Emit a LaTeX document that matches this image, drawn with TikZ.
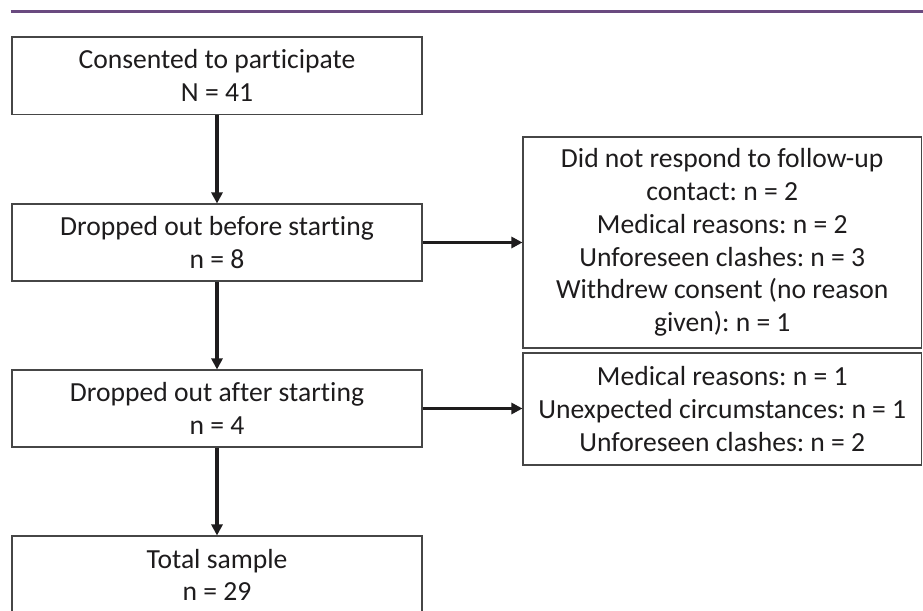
\documentclass[tikz,border=0pt]{standalone}
\usepackage{fontspec}
\setmainfont[Ligatures={NoCommon}]{Carlito}
\usetikzlibrary{arrows.meta}
\frenchspacing
\definecolor{rulepurple}{RGB}{106,74,128}
\definecolor{boxline}{RGB}{70,70,70}
\definecolor{inkc}{RGB}{30,28,29}
\tikzset{
  flowbox/.style={draw=boxline, line width=1.1pt, inner sep=0pt, align=center,
    text=inkc, font=\fontsize{27.6pt}{32.7pt}\selectfont},
  flowarrow/.style={draw=inkc, line width=3.2pt,
    -{Triangle[length=11pt,width=11pt]}}
}
\begin{document}
\begin{tikzpicture}[x=1pt,y=-1pt]
\clip (0,0) rectangle (923,610);
\fill[white] (0,0) rectangle (923,610);
\draw[rulepurple, line width=2.8pt] (10.5,11.3) -- (923,11.3);

\node[flowbox, minimum width=410pt, minimum height=77.5pt] (b1) at (217,75.75)
  {Consented to participate\\N = 41};
\node[flowbox, minimum width=410pt, minimum height=77pt] (b2) at (217,242.5)
  {Dropped out before starting\\n = 8};
\node[flowbox, minimum width=410pt, minimum height=77pt] (b3) at (217,408.5)
  {Dropped out after starting\\n = 4};
\node[flowbox, minimum width=410pt, minimum height=78pt] (b4) at (217,575)
  {Total sample\\n = 29};
\node[flowbox, minimum width=398.5pt, minimum height=211pt] (r1) at (722.25,242.5)
  {Did not respond to follow-up\\contact: n = 2\\Medical reasons: n = 2\\Unforeseen clashes: n = 3\\Withdrew consent (no reason\\given): n = 1};
\node[flowbox, minimum width=398.5pt, minimum height=112pt] (r2) at (722.25,409)
  {Medical reasons: n = 1\\Unexpected circumstances: n = 1\\Unforeseen clashes: n = 2};

\draw[flowarrow] (b1.south) -- (b2.north);
\draw[flowarrow] (b2.south) -- (b3.north);
\draw[flowarrow] (b3.south) -- (b4.north);
\draw[flowarrow] (b2.east) -- (r1.west |- b2.east);
\draw[flowarrow] (b3.east) -- (r2.west |- b3.east);
\end{tikzpicture}
\end{document}
